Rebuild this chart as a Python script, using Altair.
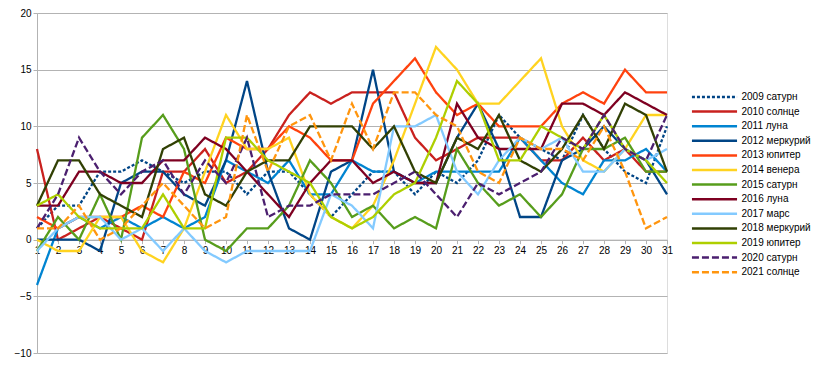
import altair as alt
import pandas as pd

days = list(range(1, 32))

series_names = [
    "2009 сатурн", "2010 солнце", "2011 луна", "2012 меркурий", "2013 юпитер",
    "2014 венера", "2015 сатурн", "2016 луна", "2017 марс", "2018 меркурий",
    "2019 юпитер", "2020 сатурн", "2021 солнце",
]

s2009 = [1, 3, 3, 6, 6, 7, 6, 5, 6, 6, 4, 6, 6, 4, 2, 4, 6, 6, 4, 6, 5, 7, 11, 9, 8, 7, 11, 8, 6, 5, 10]
s2010 = [8, 0, 1, 2, 1, 0, 6, 6, 8, 5, 6, 8, 11, 13, 12, 13, 13, 13, 9, 7, 8, 9, 9, 9, 7, 7, 9, 7, 8, 6, 6]
s2011 = [-4, 1, 2, 1, 2, 1, 2, 1, 2, 7, 6, 5, 7, 4, 4, 7, 6, 6, 5, 6, 6, 6, 6, 9, 7, 5, 4, 7, 7, 8, 6]
s2012 = [0, 0, 0, -1, 5, 6, 6, 4, 3, 7, 14, 6, 1, 0, 6, 7, 15, 6, 5, 5, 9, 12, 8, 2, 2, 7, 8, 10, 8, 7, 4]
s2013 = [2, 1, 2, 2, 2, 3, 2, 6, 5, 9, 8, 8, 10, 9, 7, 7, 12, 14, 16, 13, 11, 12, 10, 10, 10, 12, 13, 12, 15, 13, 13]
s2014 = [0, -1, -1, 2, 2, -1, -2, 1, 6, 11, 8, 8, 9, 4, 2, 1, 3, 7, 12, 17, 15, 12, 12, 14, 16, 10, 7, 6, 8, 11, 11]
s2015 = [-1, 2, 0, 4, 0, 9, 11, 8, 0, -1, 1, 1, 3, 7, 5, 2, 3, 1, 2, 1, 8, 5, 3, 4, 2, 4, 8, 8, 9, 6, 6]
s2016 = [3, 3, 6, 6, 5, 5, 7, 7, 9, 8, 6, 4, 2, 5, 7, 7, 5, 6, 5, 5, 12, 9, 8, 8, 8, 12, 12, 11, 13, 12, 11]
s2017 = [-1, 1, 2, 2, 0, 1, -1, 1, -1, -2, -1, -1, -1, -1, 4, 3, 1, 10, 10, 11, 6, 4, 7, 9, 8, 9, 6, 6, 8, 7, 8]
s2018 = [3, 7, 7, 4, 3, 2, 8, 9, 4, 3, 6, 7, 7, 10, 10, 10, 8, 10, 6, 5, 9, 8, 11, 7, 6, 8, 11, 8, 12, 11, 6]
s2019 = [3, 4, 2, 1, 1, 1, 4, 1, 1, 9, 9, 7, 6, 5, 2, 1, 2, 4, 5, 9, 14, 12, 7, 7, 10, 9, 8, 11, 8, 7, 5]
s2020 = [1, 4, 9, 6, 4, 6, 7, 4, 7, 5, 9, 2, 3, 3, 4, 4, 4, 5, 6, 4, 2, 5, 4, 5, 6, 9, 8, 11, 8, 7, 11]
s2021 = [1, 1, 3, 0, 1, 3, 5, 3, 1, 2, 11, 6, 10, 11, 7, 12, 8, 13, 13, 11, 10, 6, 5, 9, 8, 8, 7, 10, 6, 1, 2]

series_values = [s2009, s2010, s2011, s2012, s2013, s2014, s2015,
                 s2016, s2017, s2018, s2019, s2020, s2021]

colors = ["#004586", "#c9211e", "#0084d1", "#004586", "#ff420e", "#ffd320", "#579d1c",
          "#7e0021", "#83caff", "#314004", "#aecf00", "#4b1f6f", "#ff950e"]
dashes = [[3, 2], [1, 0], [1, 0], [1, 0], [1, 0], [1, 0], [1, 0],
          [1, 0], [1, 0], [1, 0], [1, 0], [7, 3], [7, 3]]

y_ticks = [-10, -5, 0, 5, 10, 15, 20]

rows = []
for name, vals in zip(series_names, series_values):
    for d, v in zip(days, vals):
        rows.append({"day": d, "value": v, "series": name})
df = pd.DataFrame(rows)

GRID = "#b3b3b3"
FONT = "Liberation Sans"
FS = 10
PLOT_W = 630
PLOT_H = 340


def make_legend():
    return alt.Legend(title=None, orient="none", legendX=654.5, legendY=77,
                      symbolType="M-4.1,0H4.1", symbolSize=121,
                      symbolStrokeWidth=2.5, symbolOffset=16,
                      labelOffset=20, rowPadding=2.6, padding=0,
                      labelFont=FONT, labelFontSize=FS,
                      labelColor="#000000", symbolLimit=0)


chart = alt.Chart(df).mark_line(strokeWidth=2.3).encode(
    x=alt.X("day:Q",
            scale=alt.Scale(domain=[1, 31], nice=False, zero=False),
            axis=alt.Axis(values=days, format="d", title=None, grid=False,
                          tickSize=4, tickColor=GRID, domainColor=GRID,
                          labelPadding=2, labelOverlap=False, labelFlush=False,
                          offset=-PLOT_H / 3, labelFont=FONT, labelFontSize=FS,
                          labelColor="#000000")),
    y=alt.Y("value:Q",
            scale=alt.Scale(domain=[-10, 20], nice=False, zero=False),
            axis=alt.Axis(values=y_ticks, title=None, grid=True, gridColor=GRID,
                          tickSize=4, tickColor=GRID, domainColor=GRID,
                          labelPadding=2, labelFont=FONT, labelFontSize=FS,
                          labelColor="#000000")),
    color=alt.Color("series:N",
                    scale=alt.Scale(domain=series_names, range=colors),
                    legend=make_legend()),
    strokeDash=alt.StrokeDash("series:N",
                              scale=alt.Scale(domain=series_names, range=dashes),
                              legend=make_legend()),
).properties(
    width=PLOT_W,
    height=PLOT_H,
    autosize=alt.AutoSizeParams(type="none"),
    padding={"left": 29, "top": 5, "right": 145, "bottom": 5},
).configure_view(
    stroke=GRID,
).configure(
    background="white",
)

chart.save("out.html", embed_options={"renderer": "svg", "actions": False})
